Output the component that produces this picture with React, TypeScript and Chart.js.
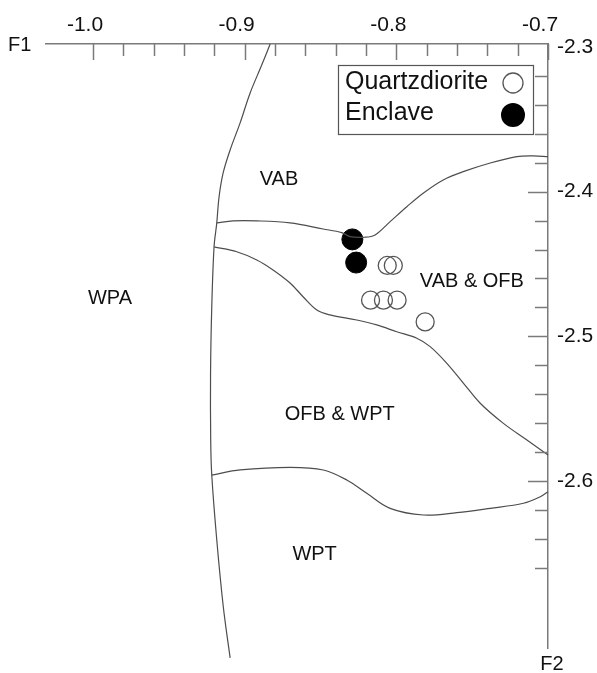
import React, { useEffect, useRef } from 'react';
import { Chart, registerables } from 'chart.js';

Chart.register(...registerables);

// ---- data -------------------------------------------------------------
const quartzX = [-0.806, -0.802, -0.817, -0.8085, -0.7995, -0.781];
const quartzY = [-2.451, -2.451, -2.475, -2.475, -2.475, -2.49];

const enclaveX = [-0.829, -0.8265];
const enclaveY = [-2.433, -2.449];

// boundary curves (discrimination fields)
const curveAX = [-0.8832, -0.8887, -0.8964, -0.903, -0.9096, -0.9142, -0.9169, -0.9184, -0.9202, -0.9217, -0.9225, -0.9224, -0.9217, -0.9184, -0.9141, -0.9096];
const curveAY = [-2.298, -2.3124, -2.3318, -2.3525, -2.3712, -2.3871, -2.4037, -2.4216, -2.4382, -2.4797, -2.5253, -2.5716, -2.5958, -2.6407, -2.6868, -2.7221];

const curveBX = [-0.9184, -0.9077, -0.892, -0.8701, -0.8483, -0.836, -0.8305, -0.8206, -0.814, -0.8041, -0.7931, -0.7821, -0.7691, -0.7559, -0.7381, -0.7205, -0.7098, -0.7];
const curveBY = [-2.4216, -2.4202, -2.4202, -2.4216, -2.4258, -2.4283, -2.4311, -2.4315, -2.4299, -2.4207, -2.4104, -2.4009, -2.3919, -2.3862, -2.3802, -2.3758, -2.3753, -2.3758];

const curveCX = [-0.9202, -0.9052, -0.892, -0.8813, -0.8701, -0.8615, -0.8524, -0.8437, -0.8261, -0.8129, -0.7997, -0.7865, -0.7777, -0.7667, -0.7557, -0.7447, -0.7294, -0.7139, -0.7];
const curveCY = [-2.4382, -2.4415, -2.4472, -2.4541, -2.4631, -2.4726, -2.4818, -2.4852, -2.4887, -2.4921, -2.4968, -2.5013, -2.5071, -2.5186, -2.5324, -2.5462, -2.5601, -2.5716, -2.582];

const curveDX = [-0.9217, -0.903, -0.8701, -0.8481, -0.8327, -0.8195, -0.8041, -0.7821, -0.7601, -0.7381, -0.7162, -0.7051, -0.7];
const curveDY = [-2.5958, -2.5923, -2.5905, -2.5923, -2.5992, -2.6084, -2.6188, -2.6234, -2.6218, -2.6188, -2.6153, -2.6108, -2.6073];

// field labels
const regionNames = ['VAB', 'WPA', 'VAB & OFB', 'OFB & WPT', 'WPT'];
const regionX = [-0.8774, -0.9888, -0.7502, -0.8373, -0.8539];
const regionY = [-2.3919, -2.4735, -2.4622, -2.5543, -2.6504];

// axes
const xTickLabels = [-1.0, -0.9, -0.8, -0.7];
const yTickLabels = [-2.3, -2.4, -2.5, -2.6];
const xMinorTicks = [-1.0, -0.98, -0.96, -0.94, -0.92, -0.9, -0.88, -0.86, -0.84, -0.82, -0.8, -0.78, -0.76, -0.74, -0.72, -0.7];
const yMinorTicks = [-2.32, -2.34, -2.36, -2.38, -2.4, -2.42, -2.44, -2.46, -2.48, -2.5, -2.52, -2.54, -2.56, -2.58, -2.6, -2.62, -2.64, -2.66];
const xMin = -1.031;
const xMax = -0.7;
const yMin = -2.7153;
const yMax = -2.298;

const seriesNames = ['Quartzdiorite', 'Enclave'];

const FONT = '"Liberation Sans", Arial, sans-serif';

const zip = (xs: number[], ys: number[]) => xs.map((x, i) => ({ x, y: ys[i] }));

const isMajor = (v: number, list: number[]) => list.some((t) => Math.abs(t - v) < 1e-6);

const overlayPlugin = {
  id: 'overlay',
  afterDatasetsDraw(chart: any) {
    const { ctx, chartArea } = chart;
    const xs = chart.scales.x;
    const ys = chart.scales.y;
    ctx.save();
    // inward tick marks
    ctx.strokeStyle = '#7a7a7a';
    ctx.lineWidth = 1.5;
    xMinorTicks.forEach((v) => {
      const px = Math.round(xs.getPixelForValue(v)) + 0.5;
      const len = isMajor(v, xTickLabels) ? 16 : 12;
      ctx.beginPath();
      ctx.moveTo(px, chartArea.top);
      ctx.lineTo(px, chartArea.top + len);
      ctx.stroke();
    });
    yMinorTicks.forEach((v) => {
      const py = Math.round(ys.getPixelForValue(v)) + 0.5;
      const len = isMajor(v, yTickLabels) ? 20 : 13;
      ctx.beginPath();
      ctx.moveTo(chartArea.right, py);
      ctx.lineTo(chartArea.right - len, py);
      ctx.stroke();
    });

    // field labels
    ctx.fillStyle = '#111';
    ctx.font = `20px ${FONT}`;
    ctx.textAlign = 'center';
    ctx.textBaseline = 'middle';
    regionNames.forEach((name, i) => {
      ctx.fillText(name, xs.getPixelForValue(regionX[i]), ys.getPixelForValue(regionY[i]));
    });

    // axis names
    ctx.textAlign = 'left';
    ctx.fillText('F1', 8, chartArea.top + 1);
    ctx.textAlign = 'center';
    ctx.fillText('F2', chartArea.right + 4, 664);

    // legend
    const bx = 338, by = 65, bw = 195, bh = 69;
    ctx.strokeStyle = '#555';
    ctx.lineWidth = 1.2;
    ctx.strokeRect(bx + 0.5, by + 0.5, bw, bh);
    ctx.font = `25px ${FONT}`;
    ctx.textAlign = 'left';
    ctx.fillStyle = '#111';
    ctx.fillText(seriesNames[0], bx + 7, by + 17);
    ctx.fillText(seriesNames[1], bx + 7, by + 48);
    ctx.beginPath();
    ctx.arc(bx + 175, by + 18, 10, 0, Math.PI * 2);
    ctx.strokeStyle = '#555';
    ctx.lineWidth = 1.3;
    ctx.stroke();
    ctx.beginPath();
    ctx.arc(bx + 175, by + 50, 12, 0, Math.PI * 2);
    ctx.fillStyle = '#000';
    ctx.fill();
    ctx.restore();
  },
};

export default function App() {
  const canvasRef = useRef<HTMLCanvasElement | null>(null);

  useEffect(() => {
    const canvas = canvasRef.current;
    if (!canvas) return;
    const curveStyle = {
      showLine: true,
      pointRadius: 0,
      borderColor: '#4d4d4d',
      borderWidth: 1.2,
      tension: 0.35,
      fill: false,
      clip: false as any,
    };
    const chart = new Chart(canvas, {
      type: 'scatter',
      data: {
        datasets: [
          { label: 'A', data: zip(curveAX, curveAY), ...curveStyle },
          { label: 'B', data: zip(curveBX, curveBY), ...curveStyle },
          { label: 'C', data: zip(curveCX, curveCY), ...curveStyle },
          { label: 'D', data: zip(curveDX, curveDY), ...curveStyle },
          {
            label: seriesNames[0],
            data: zip(quartzX, quartzY),
            pointRadius: 9,
            pointBackgroundColor: 'rgba(0,0,0,0)',
            pointBorderColor: '#555',
            pointBorderWidth: 1.3,
            showLine: false,
          },
          {
            label: seriesNames[1],
            data: zip(enclaveX, enclaveY),
            pointRadius: 10.5,
            pointBackgroundColor: '#000',
            pointBorderColor: '#000',
            pointBorderWidth: 1,
            showLine: false,
          },
        ],
      },
      options: {
        responsive: false,
        animation: false,
        devicePixelRatio: 1,
        layout: { padding: { left: 46, top: 0, right: 0, bottom: 25 } },
        plugins: {
          legend: { display: false },
          tooltip: { enabled: false },
          title: { display: false },
        },
        scales: {
          x: {
            type: 'linear',
            position: 'top',
            min: xMin,
            max: xMax,
            afterBuildTicks: (s: any) => {
              s.ticks = xTickLabels.map((v) => ({ value: v }));
            },
            afterFit: (s: any) => {
              s.height = 44;
            },
            grid: { display: true, drawOnChartArea: false, drawTicks: false },
            border: { display: true, color: '#7a7a7a', width: 1.5 },
            ticks: {
              font: { family: FONT, size: 21 },
              color: '#111',
              padding: 6,
              labelOffset: -8,
              maxRotation: 0,
              autoSkip: false,
              callback: (v: any) => Number(v).toFixed(1),
            },
          },
          y: {
            type: 'linear',
            position: 'right',
            min: yMin,
            max: yMax,
            afterBuildTicks: (s: any) => {
              s.ticks = yTickLabels.map((v) => ({ value: v }));
            },
            afterFit: (s: any) => {
              s.width = 49;
            },
            grid: { display: true, drawOnChartArea: false, drawTicks: false },
            border: { display: true, color: '#7a7a7a', width: 1.5 },
            ticks: {
              font: { family: FONT, size: 21 },
              color: '#111',
              padding: 9,
              autoSkip: false,
              callback: (v: any) => Number(v).toFixed(1),
            },
          },
        },
      },
      plugins: [overlayPlugin],
    });
    return () => chart.destroy();
  }, []);

  return (
    <div style={{ position: 'absolute', left: 0, top: 0, width: 597, height: 673, background: '#fff' }}>
      <canvas ref={canvasRef} width={597} height={673} style={{ display: 'block' }} />
    </div>
  );
}
